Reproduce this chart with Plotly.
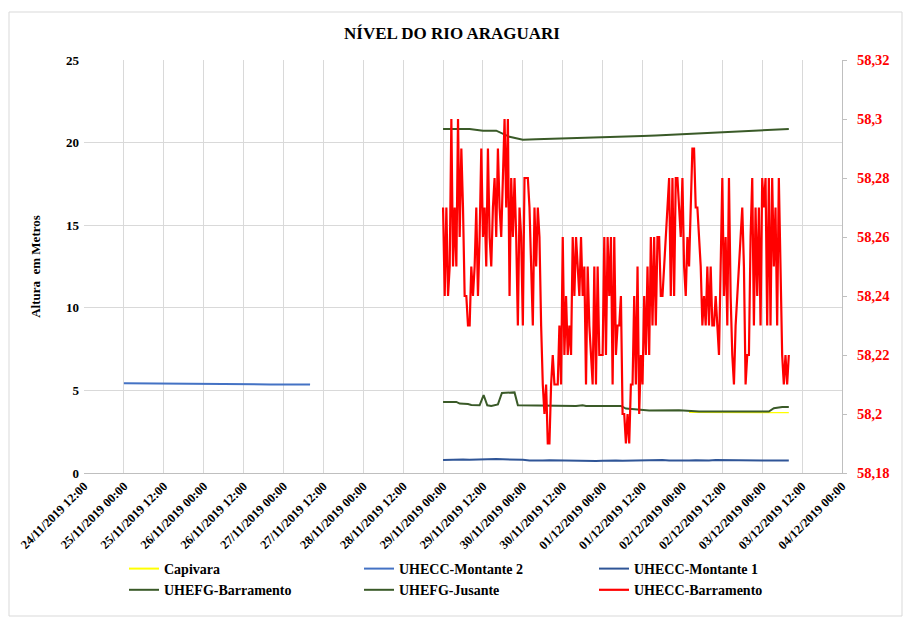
import numpy as np
import pandas as pd
import plotly.graph_objects as go

# ---- data ----
tick_start = "2019-11-24 12:00"
tick_end = "2019-12-04 00:00"

# UHECC-Montante 2 : 4h samples from 25/11 00:00
mont2_start = "2019-11-25 00:00"
mont2_values = [5.43, 5.42, 5.41, 5.41, 5.40, 5.39, 5.39, 5.38, 5.38, 5.37,
                5.37, 5.36, 5.36, 5.35, 5.35]

# series that start at 29/11 00:00
period_start = "2019-11-29 00:00"

# UHECC-Montante 1 : 2h samples
mont1_values = [0.78, 0.80, 0.79, 0.81, 0.80, 0.82, 0.83, 0.82, 0.84, 0.83,
                0.82, 0.83, 0.80, 0.76, 0.74, 0.75, 0.77, 0.76, 0.78, 0.75,
                0.74, 0.76, 0.75, 0.73, 0.74, 0.76, 0.75, 0.74, 0.75, 0.77,
                0.76, 0.75, 0.77, 0.78, 0.76, 0.75, 0.74, 0.76, 0.77, 0.75,
                0.76, 0.78, 0.77, 0.76, 0.75, 0.77, 0.76, 0.74, 0.75, 0.76,
                0.75, 0.74, 0.75]

# UHEFG-Barramento : 4h samples
barr_values = [20.82, 20.82, 20.82, 20.72, 20.72, 20.35, 20.18, 20.20, 20.22,
               20.25, 20.27, 20.30, 20.32, 20.34, 20.37, 20.40, 20.43, 20.47,
               20.50, 20.54, 20.58, 20.62, 20.66, 20.70, 20.74, 20.78, 20.82]

# UHEFG-Jusante : hours after 29/11 00:00
jus_hours = [0, 4, 5, 7.5, 8.5, 11, 12.2, 13.3, 14.5, 16.5, 17.7, 21.5, 22.5,
             30, 40, 42, 43, 53.5, 55, 62, 70, 71, 77, 98, 99.5, 102, 104]
jus_values = [4.30, 4.30, 4.20, 4.18, 4.12, 4.10, 4.72, 4.10, 4.05, 4.15,
              4.85, 4.88, 4.10, 4.08, 4.06, 4.10, 4.06, 4.06, 3.90, 3.78,
              3.76, 3.80, 3.72, 3.72, 3.92, 4.00, 4.00]

# Capivara : hours after 29/11 00:00
cap_hours = [74, 80, 90, 98, 104]
cap_values = [3.69, 3.68, 3.68, 3.68, 3.68]

# UHECC-Barramento (secondary axis) : 30 min samples
ucb_values = [
    58.27, 58.24, 58.27, 58.24, 58.25, 58.30, 58.25, 58.27, 58.25, 58.30,
    58.26, 58.29, 58.27, 58.24, 58.24, 58.23, 58.23, 58.25, 58.24, 58.25,
    58.27, 58.24, 58.26, 58.29, 58.26, 58.27, 58.25, 58.29, 58.26, 58.25,
    58.27, 58.28, 58.26, 58.29, 58.27, 58.26, 58.28, 58.30, 58.27, 58.30,
    58.24, 58.28, 58.26, 58.28, 58.26, 58.23, 58.27, 58.26, 58.23, 58.28,
    58.28, 58.28, 58.27, 58.25, 58.23, 58.27, 58.25, 58.27, 58.26, 58.23,
    58.21, 58.20, 58.21, 58.19, 58.19, 58.21, 58.22, 58.21, 58.21, 58.21,
    58.23, 58.21, 58.26, 58.22, 58.24, 58.22, 58.23, 58.22, 58.26, 58.24,
    58.26, 58.25, 58.24, 58.26, 58.24, 58.25, 58.21, 58.25, 58.23, 58.22,
    58.21, 58.25, 58.21, 58.25, 58.22, 58.22, 58.22, 58.26, 58.22, 58.26,
    58.24, 58.26, 58.21, 58.26, 58.22, 58.23, 58.23, 58.24, 58.20, 58.20,
    58.19, 58.20, 58.19, 58.21, 58.21, 58.24, 58.21, 58.25, 58.20, 58.22,
    58.21, 58.24, 58.22, 58.25, 58.22, 58.26, 58.23, 58.26, 58.23, 58.26,
    58.26, 58.24, 58.24, 58.25, 58.26, 58.27, 58.28, 58.24, 58.28, 58.24,
    58.28, 58.28, 58.27, 58.26, 58.28, 58.25, 58.24, 58.26, 58.25, 58.27,
    58.29, 58.29, 58.27, 58.27, 58.26, 58.25, 58.23, 58.24, 58.23, 58.25,
    58.23, 58.25, 58.23, 58.23, 58.24, 58.23, 58.22, 58.25, 58.28, 58.24,
    58.26, 58.23, 58.28, 58.24, 58.22, 58.21, 58.23, 58.24, 58.25, 58.26,
    58.27, 58.25, 58.21, 58.22, 58.22, 58.26, 58.28, 58.23, 58.27, 58.24,
    58.27, 58.23, 58.28, 58.27, 58.28, 58.23, 58.28, 58.23, 58.28, 58.25,
    58.27, 58.23, 58.28, 58.25, 58.22, 58.21, 58.22, 58.21, 58.22,
]

right_ticks = [58.18, 58.20, 58.22, 58.24, 58.26, 58.28, 58.30, 58.32]
right_labels = ["58,18", "58,2", "58,22", "58,24", "58,26", "58,28", "58,3", "58,32"]

# ---- time axes ----
t0 = pd.Timestamp(period_start)
mont2_x = pd.date_range(mont2_start, periods=len(mont2_values), freq="4h")
mont1_x = pd.date_range(period_start, periods=len(mont1_values), freq="2h")
barr_x = pd.date_range(period_start, periods=len(barr_values), freq="4h")
ucb_x = pd.date_range(period_start, periods=len(ucb_values), freq="30min")
jus_x = [t0 + pd.Timedelta(hours=h) for h in jus_hours]
cap_x = [t0 + pd.Timedelta(hours=h) for h in cap_hours]
tick_x = pd.date_range(tick_start, tick_end, freq="12h")
tick_text = [t.strftime("%d/%m/%Y %H:%M") for t in tick_x]

font_family = "Liberation Serif"
green = "#3A5A28"

fig = go.Figure()
fig.add_trace(go.Scatter(x=cap_x, y=cap_values, mode="lines", name="Capivara",
                         line=dict(color="#FFFF00", width=2)))
fig.add_trace(go.Scatter(x=mont2_x, y=mont2_values, mode="lines", name="UHECC-Montante 2",
                         line=dict(color="#4472C4", width=2)))
fig.add_trace(go.Scatter(x=mont1_x, y=mont1_values, mode="lines", name="UHECC-Montante 1",
                         line=dict(color="#2F5597", width=2)))
fig.add_trace(go.Scatter(x=barr_x, y=barr_values, mode="lines", name="UHEFG-Barramento",
                         line=dict(color=green, width=2)))
fig.add_trace(go.Scatter(x=jus_x, y=jus_values, mode="lines", name="UHEFG-Jusante",
                         line=dict(color=green, width=2)))
fig.add_trace(go.Scatter(x=ucb_x, y=ucb_values, mode="lines", name="UHECC-Barramento",
                         line=dict(color="#FF0000", width=2.2), yaxis="y2"))

# outer chart border
pl, pr, pt, pb = 84, 842, 60, 473
pw, ph = pr - pl, pb - pt
fig.add_shape(type="rect", xref="paper", yref="paper",
              x0=(9 - pl) / pw, x1=(902 - pl) / pw,
              y0=(pb - 616) / ph, y1=(pb - 12) / ph,
              line=dict(color="#D9D9D9", width=1), layer="below")

bold = dict(family=font_family, weight="bold")

fig.update_layout(
    width=904, height=617,
    margin=dict(l=pl, r=904 - pr, t=pt, b=617 - pb, autoexpand=False),
    paper_bgcolor="white", plot_bgcolor="white",
    font=dict(family=font_family, size=13, color="black", weight="bold"),
    title=dict(text="NÍVEL DO RIO ARAGUARI", x=0.5, xanchor="center",
               y=1 - 33 / 617, yanchor="middle", font=dict(size=17, **bold)),
    xaxis=dict(type="date", range=[tick_start, tick_end], tickvals=tick_x, ticktext=tick_text,
               tickangle=-45, showgrid=True, gridcolor="#D9D9D9", gridwidth=1,
               showline=True, linecolor="#BFBFBF", ticks="", zeroline=False,
               automargin=False, tickfont=dict(size=12.5, **bold)),
    yaxis=dict(range=[0, 25], dtick=5, showgrid=True, gridcolor="#D9D9D9",
               showline=False, zeroline=False, ticks="", automargin=False,
               ticklabelstandoff=4,
               title=dict(text="Altura  em Metros", font=dict(size=13, **bold), standoff=22),
               tickfont=dict(size=13, **bold)),
    yaxis2=dict(range=[58.18, 58.32], overlaying="y", side="right",
                tickvals=right_ticks, ticktext=right_labels, showgrid=False,
                showline=True, linecolor="#BFBFBF", ticks="outside", ticklen=4,
                tickcolor="#BFBFBF", zeroline=False, automargin=False,
                ticklabelstandoff=7,
                tickfont=dict(size=14.5, color="#FF0000", **bold)),
    legend=dict(orientation="h", x=(124 - pl) / pw, xanchor="left",
                y=(pb - 553) / ph, yanchor="top",
                entrywidth=190, entrywidthmode="pixels",
                font=dict(size=14, **bold), bgcolor="rgba(0,0,0,0)"),
    showlegend=True,
)

# page has a default 8px body margin; drop it so the figure sits at the origin
fig.write_html("out.html", config={"displayModeBar": False},
               post_script="document.body.style.margin='0';")
